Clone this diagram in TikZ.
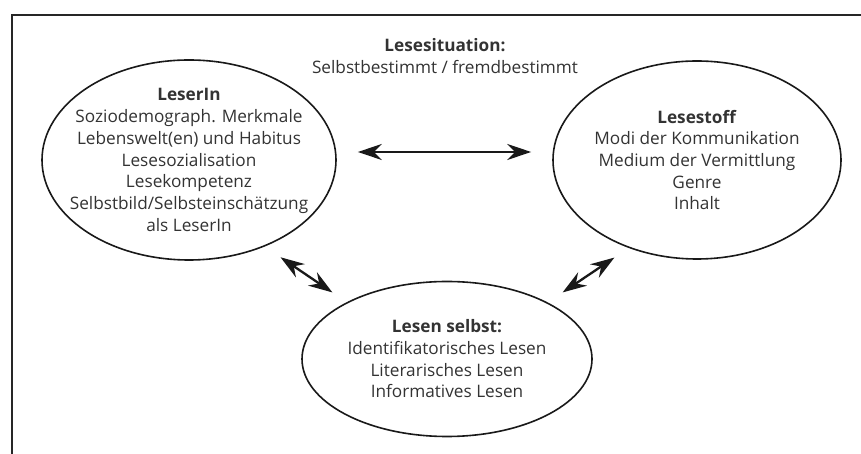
\documentclass[tikz,border=0pt]{standalone}
\usepackage{fontspec}
\setmainfont{Open Sans}
\usetikzlibrary{shapes.geometric,arrows.meta}
\definecolor{ink}{HTML}{333333}
\tikzset{
  oval/.style={ellipse, draw=black!90, line width=1.6pt, inner sep=0pt},
  txt/.style={align=center, text=ink, font=\fontsize{17.2}{21.7}\selectfont},
  arr/.style={line width=2.3pt, black!90,
    {Stealth[length=24pt,width=16pt,inset=8pt]}-{Stealth[length=24pt,width=16pt,inset=8pt]}},
  frameline/.style={line width=2pt, black!85}
}
\begin{document}
\begin{tikzpicture}[x=1pt,y=1pt]
\useasboundingbox (0,0) rectangle (861,454);
\draw[frameline] (12,0) -- (12,439) -- (861,439);

\node[txt] (S) at (445,398) {\textbf{Lesesituation:}\\Selbstbestimmt / fremdbestimmt};

\node[oval, minimum width=294pt, minimum height=200pt,
  label={[txt]center:{\textbf{LeserIn}\\Soziodemograph. Merkmale\\Lebenswelt(en) und Habitus\\Lesesozialisation\\Lesekompetenz\\Selbstbild/Selbsteinschätzung\\als LeserIn}}]
  (L) at (189,294) {};

\node[oval, minimum width=288pt, minimum height=198pt,
  label={[txt]center:{\textbf{Lesestoff}\\Modi der Kommunikation\\Medium der Vermittlung\\Genre\\Inhalt}}]
  (R) at (697,294) {};

\node[oval, minimum width=290pt, minimum height=155pt,
  label={[txt]center:{\textbf{Lesen selbst:}\\Identifikatorisches Lesen\\Literarisches Lesen\\Informatives Lesen}}]
  (B) at (447,95) {};

\draw[arr] ([shift={(21,8)}]L.east) -- ([shift={(-21,8)}]R.west);
\draw[arr] ([shift={(-13,-26)}]L.south east) -- ([shift={(-11.5,11.2)}]B.north west);
\draw[arr] ([shift={(12.5,11.2)}]B.north east) -- ([shift={(19.8,-27)}]R.south west);
\end{tikzpicture}
\end{document}
